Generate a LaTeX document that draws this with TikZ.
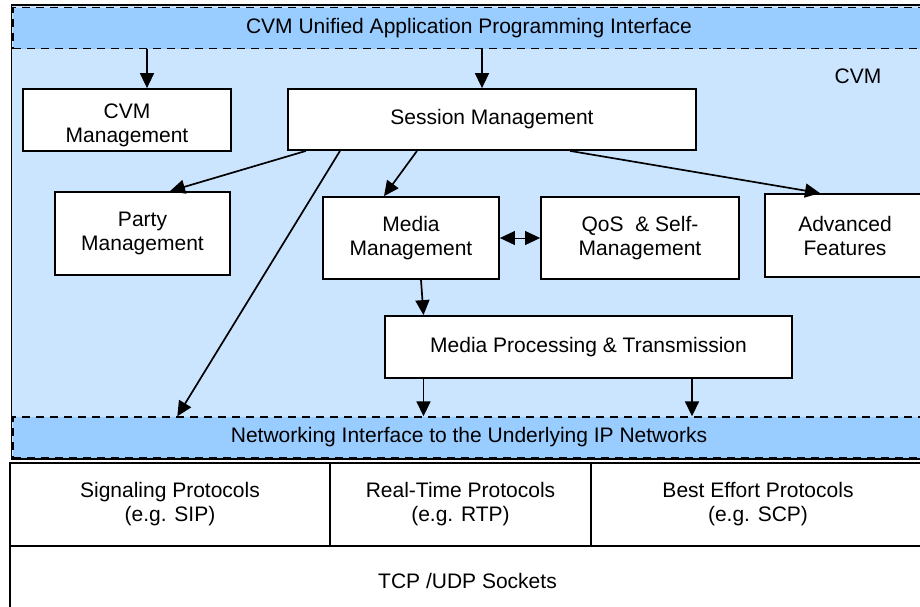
\documentclass[tikz,border=0pt]{standalone}
\usepackage{fontspec}
\setmainfont{Liberation Sans}
\usetikzlibrary{arrows.meta,positioning,calc}
\definecolor{cvmbg}{HTML}{CCE5FF}
\definecolor{bandbg}{HTML}{99CCFF}
\newcommand{\boxfont}{\fontsize{21}{24}\selectfont}
\tikzset{
  cvmarea/.style={
    draw=black, fill=cvmbg, line width=1.3pt, inner sep=0pt
  },
  band/.style={
    draw=black, fill=bandbg, line width=1.4pt, dash pattern=on 8pt off 6pt,
    inner sep=0pt, minimum width=912pt, minimum height=41pt, font=\boxfont
  },
  modbox/.style={
    draw=black, fill=white, line width=1.8pt, align=center,
    inner sep=0pt, font=\boxfont
  },
  layerbox/.style={
    draw=black, fill=white, line width=1.8pt, align=center,
    inner sep=0pt, font=\boxfont
  },
  flow/.style={-{Triangle[length=15pt,width=14pt]}, line width=1.7pt},
  biflow/.style={{Triangle[length=15pt,width=14pt]}-{Triangle[length=15pt,width=14pt]}, line width=1pt}
}

\begin{document}
\begin{tikzpicture}[x=1pt,y=-1pt]
  \useasboundingbox (0,0) rectangle (920,606);

  % CVM area and its two interfaces
  \node[cvmarea,minimum width=913.5pt,minimum height=454pt] (cvm) at (468.25,232) {};
  \node[band] (api) at (469,28) {CVM Unified Application Programming Interface};
  \node[band] (net) at (469,437.5) {Networking Interface to the Underlying IP Networks};
  \node[font=\boxfont] (cvmlabel) at (858,76) {CVM};

  % modules
  \node[modbox,minimum width=208pt,minimum height=62pt] (cvmmgmt) at (127,120) {};
  \node[font=\boxfont,align=center,inner sep=0pt] (cvmmgmttxt) at (127,125) {CVM\\Management};
  \node[modbox,minimum width=408pt,minimum height=61pt] (session) at (492,119.5) {Session Management};
  \node[modbox,minimum width=175pt,minimum height=83pt] (party) at (142.5,233.5) {Party\\Management};
  \node[modbox,minimum width=176pt,minimum height=82pt] (media) at (411,238) {Media\\Management};
  \node[modbox,minimum width=198pt,minimum height=82pt] (qos) at (640,238) {QoS\ \ \& Self-\\Management};
  \node[modbox,minimum width=160pt,minimum height=83pt] (adv) at (845,235.5) {Advanced\\Features};
  \node[modbox,minimum width=407pt,minimum height=62pt] (proc) at (588.5,347) {Media Processing \& Transmission};

  % protocol layers
  \node[layerbox,minimum width=320pt,minimum height=83pt] (sig) at (170,504.5) {Signaling Protocols\\(e.g. SIP)};
  \node[layerbox,minimum width=261pt,minimum height=83pt] (rtp) at (460.5,504.5) {Real-Time Protocols\\(e.g. RTP)};
  \node[layerbox,minimum width=334pt,minimum height=83pt] (bep) at (758,504.5) {Best Effort Protocols\\(e.g. SCP)};
  \node[layerbox,minimum width=915pt,minimum height=69pt] (tcp) at (467.5,580.5) {TCP /UDP Sockets};

  % connectors
  \coordinate (apicvm) at ($(cvmmgmt.north)+(20,0)$);
  \coordinate (apises) at ($(session.north)+(-10,0)$);
  \coordinate (procnet1) at ($(proc.south)+(-165,0)$);
  \coordinate (procnet2) at ($(proc.south)+(103.5,0)$);
  \draw[flow] (apicvm |- api.south) -- (apicvm);
  \draw[flow] (apises |- api.south) -- (apises);
  \draw[flow] ($(session.south)+(-186,0)$) -- ($(party.north)+(27.5,0)$);
  \draw[flow] ($(session.south)+(-152,0)$) -- ($(net.north west)+(165,0)$);
  \draw[flow] ($(session.south)+(-75,0)$) -- ($(media.north)+(-27,0)$);
  \draw[flow] ($(session.south)+(78,0)$) -- ($(adv.north)+(-25,0)$);
  \draw[biflow] (media.east) -- (qos.west);
  \draw[flow] ($(media.south)+(10,0)$) -- ($(proc.north)+(-165,0)$);
  \draw[flow] (procnet1) -- (procnet1 |- net.north);
  \draw[flow] (procnet2) -- (procnet2 |- net.north);
\end{tikzpicture}
\end{document}
